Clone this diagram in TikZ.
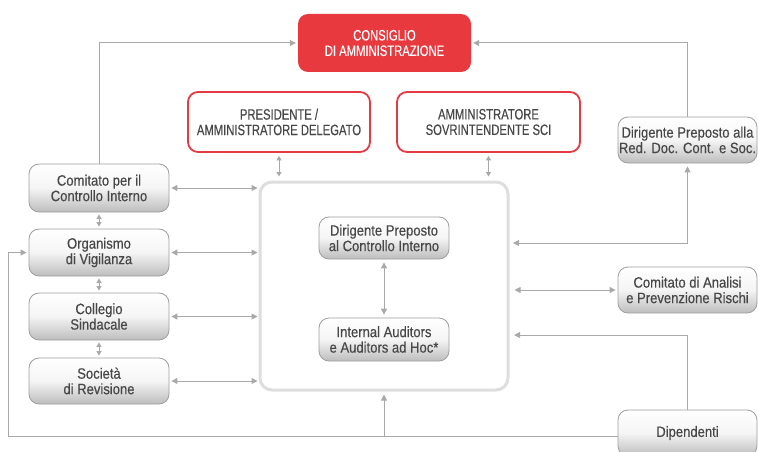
\documentclass[tikz,border=0pt]{standalone}
\usepackage{fontspec}
\setmainfont{Liberation Sans}[FakeStretch=0.87, FakeBold=0.35]
\newfontfamily\capsfont{Liberation Sans}[FakeStretch=0.75, FakeBold=0.35]
\usetikzlibrary{arrows.meta}
\definecolor{redfill}{HTML}{E8393F}
\definecolor{redline}{HTML}{E53A43}
\definecolor{txt}{HTML}{474747}
\definecolor{conncol}{HTML}{A9A9A9}
\definecolor{gborder}{HTML}{9E9E9E}
\definecolor{bigborder}{HTML}{DEDEDE}
\tikzset{
  basebox/.style={rounded corners=10pt, align=center, inner sep=0pt,
    font=\fontsize{15}{15.5}\selectfont, text=txt},
  gbox/.style={basebox, draw=gborder, line width=0.8pt, top color=white,
    bottom color=black!26, middle color=white!96!black,
    minimum width=140pt, minimum height=47pt},
  rbox/.style={basebox, draw=redline, line width=1.8pt, fill=white,
    font=\fontsize{15}{15.5}\selectfont\capsfont,
    minimum height=60pt},
  cbox/.style={basebox, fill=redfill, text=white,
    font=\fontsize{15}{15.5}\selectfont\capsfont,
    minimum width=173pt, minimum height=58pt},
  bigbox/.style={rounded corners=12pt, draw=bigborder, line width=3pt, fill=white,
    minimum width=248pt, minimum height=208pt},
  conn/.style={draw=conncol, line width=1pt,
    -{Triangle[length=6pt,width=6pt]}},
  dconn/.style={draw=conncol, line width=1pt,
    {Triangle[length=6pt,width=6pt]}-{Triangle[length=6pt,width=6pt]}},
  sconn/.style={draw=conncol, line width=1pt,
    {Triangle[length=4.5pt,width=5pt]}-{Triangle[length=4.5pt,width=5pt]}},
}
\begin{document}
\begin{tikzpicture}[x=1pt,y=-1pt]
\useasboundingbox (0,0) rectangle (758,452);
% nodes
\node[cbox] (cons) at (384.5,43) {CONSIGLIO\\DI AMMINISTRAZIONE};
\node[rbox, minimum width=182pt] (pres) at (279,122) {PRESIDENTE /\\AMMINISTRATORE DELEGATO};
\node[rbox, minimum width=183pt] (amm) at (488.5,122) {AMMINISTRATORE\\SOVRINTENDENTE SCI};
\node[gbox, minimum width=139pt, minimum height=46pt] (dirA) at (687.5,140) {Dirigente Preposto alla\\Red. Doc. Cont. e Soc.};
\node[gbox, minimum height=48pt] (cci) at (99,188) {Comitato per il\\Controllo Interno};
\node[gbox] (odv) at (99,252.5) {Organismo\\di Vigilanza};
\node[gbox] (col) at (99,316.5) {Collegio\\Sindacale};
\node[gbox, minimum height=46pt] (soc) at (99,381) {Società\\di Revisione};
\node[bigbox] (big) at (384,286) {};
\node[gbox, minimum width=130pt, minimum height=42pt] (dci) at (384,238) {Dirigente Preposto\\al Controllo Interno};
\node[gbox, minimum width=130pt, minimum height=43pt] (ia) at (384,339.5) {Internal Auditors\\e Auditors ad Hoc*};
\node[gbox, minimum width=139pt, minimum height=46pt] (cap) at (687.5,290) {Comitato di Analisi\\e Prevenzione Rischi};
\node[gbox, minimum width=139pt, minimum height=46pt] (dip) at (687.5,433) {Dipendenti};
% free-end coordinates
\coordinate (bl) at (8,436);
\coordinate (dipin) at (508,335);
\coordinate (dirin) at (508,243);
% connectors to the board
\draw[conn, shorten >=2pt] (cci.north) |- (cons.west);
\draw[conn, shorten >=2pt] (dirA.north) |- (cons.east);
% red boxes to the big box
\draw[sconn, shorten <=3pt, shorten >=4pt] (pres.south) -- (pres.south |- big.north);
\draw[sconn, shorten <=3pt, shorten >=4pt] (amm.south) -- (amm.south |- big.north);
% left column to the big box
\draw[dconn, shorten <=2pt, shorten >=1pt] (cci.east) -- (cci.east -| big.west);
\draw[dconn, shorten <=2pt, shorten >=1pt] (odv.east) -- (odv.east -| big.west);
\draw[dconn, shorten <=2pt, shorten >=1pt] (col.east) -- (col.east -| big.west);
\draw[dconn, shorten <=2pt, shorten >=1pt] (soc.east) -- (soc.east -| big.west);
% left column verticals
\draw[sconn, shorten <=2pt, shorten >=2pt] (cci.south) -- (odv.north);
\draw[sconn, shorten <=2pt, shorten >=2pt] (odv.south) -- (col.north);
\draw[sconn, shorten <=2pt, shorten >=2pt] (col.south) -- (soc.north);
% inner
\draw[dconn, shorten <=3pt, shorten >=3pt] (dci.south) -- (ia.north);
% right side
\draw[dconn, shorten <=5pt, shorten >=3pt] (dirin) -| (dirA.south);
\draw[dconn, shorten <=2pt, shorten >=5pt] (cap.west) -- (cap.west -| big.east);
\draw[conn, shorten >=6pt] (dip.north) |- (dipin);
% bottom loop
\draw[conn, shorten >=2pt] (dip.west |- bl) -- (bl) |- (odv.west);
\draw[conn, shorten >=3pt] (big.south |- bl) -- (big.south);
\end{tikzpicture}
\end{document}
